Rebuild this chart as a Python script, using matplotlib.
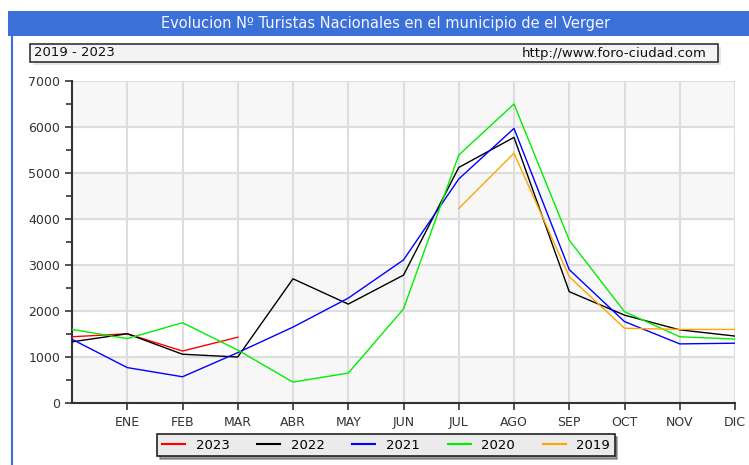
import matplotlib.pyplot as plt
from matplotlib.patches import Rectangle
from matplotlib.lines import Line2D

# Datos (posicion 0 = punto inicial, 1..12 = ENE..DIC)
meses = ['ENE', 'FEB', 'MAR', 'ABR', 'MAY', 'JUN', 'JUL', 'AGO', 'SEP', 'OCT', 'NOV', 'DIC']
t2023 = [1440, 1505, 1130, 1430]
t2022 = [1330, 1505, 1060, 1000, 2700, 2150, 2780, 5120, 5775, 2420, 1910, 1590, 1455]
t2021 = [1385, 770, 570, 1095, 1650, 2280, 3110, 4870, 5970, 2900, 1770, 1285, 1300]
t2020 = [1600, 1400, 1745, 1150, 455, 650, 2045, 5390, 6500, 3540, 1985, 1440, 1390]
t2019 = [4230, 5430, 2745, 1625, 1600, 1600]
x2019_inicio = 7

W, H = 749, 465
fig = plt.figure(figsize=(W / 100, H / 100), dpi=100)
fig.patch.set_facecolor('white')

def fx(px):
    return px / W

def fy(py):
    return 1 - py / H

# Cabecera azul con el titulo
fig.patches.append(Rectangle((fx(8), fy(36)), fx(741), 25 / H, transform=fig.transFigure,
                             facecolor='#3A70D8', edgecolor='none'))
fig.add_artist(Line2D([fx(12), fx(12)], [fy(36), fy(465)], transform=fig.transFigure,
                      color='#3A70D8', lw=1.5))
fig.text(fx(386), fy(23.5), 'Evolucion Nº Turistas Nacionales en el municipio de el Verger',
         color='#F4F6FF', fontsize=10.5, ha='center', va='center')

# Caja con los años y la web
fig.patches.append(Rectangle((fx(33), fy(65)), fx(688), 18 / H, transform=fig.transFigure,
                             facecolor='#E6E6E6', edgecolor='none'))
fig.patches.append(Rectangle((fx(30), fy(62)), fx(688), 18 / H, transform=fig.transFigure,
                             facecolor='#F4F4F4', edgecolor='#333333', lw=1.2))
fig.text(fx(34), fy(53), '2019 - 2023', fontsize=9.5, ha='left', va='center', color='#111111')
fig.text(fx(707), fy(53), 'http://www.foro-ciudad.com', fontsize=9.5, ha='right', va='center',
         color='#111111')

# Area del grafico
ax = fig.add_axes([fx(72), fy(403), fx(735 - 72), (403 - 81) / H])
ax.set_facecolor('white')
for lo in range(0, 7000, 2000):
    ax.axhspan(lo, lo + 1000, color='#F7F7F7', zorder=0)
for v in range(1000, 8000, 1000):
    ax.axhline(v, color='#DDDDDD', lw=1.5, zorder=1)
for m in range(1, 13):
    ax.axvline(m, color='#DDDDDD', lw=1.5, zorder=1)

ax.plot(range(len(t2023)), t2023, color='#FF0000', lw=1, zorder=3)
ax.plot(range(len(t2022)), t2022, color='#000000', lw=1, zorder=3)
ax.plot(range(len(t2021)), t2021, color='#0000FF', lw=1, zorder=3)
ax.plot(range(len(t2020)), t2020, color='#00EE00', lw=1, zorder=3)
ax.plot(range(x2019_inicio, x2019_inicio + len(t2019)), t2019, color='#FFA500', lw=1, zorder=3)

ax.set_xlim(0, 12)
ax.set_ylim(0, 7000)
ax.set_xticks(range(1, 13))
ax.set_xticklabels(meses)
ax.set_yticks(range(0, 8000, 1000))
ax.set_yticks(range(500, 7000, 1000), minor=True)
ax.tick_params(axis='both', labelsize=9, colors='#333333', width=1.2, length=5)
ax.tick_params(axis='y', which='minor', length=4, width=1.2, colors='#333333')
ax.tick_params(axis='x', pad=4)

for s in ['top', 'right']:
    ax.spines[s].set_visible(False)
for s in ['left', 'bottom']:
    ax.spines[s].set_color('#333333')
    ax.spines[s].set_linewidth(1.5)

# Leyenda
handles = [Line2D([], [], color=c, lw=1.5) for c in ['#FF0000', '#000000', '#0000FF', '#00EE00', '#FFA500']]
leg = fig.legend(handles, ['2023', '2022', '2021', '2020', '2019'], ncol=5,
                 loc='center', bbox_to_anchor=(fx(386), fy(445)), frameon=True,
                 fancybox=False, shadow=True, edgecolor='#222222', facecolor='#EBEBEB',
                 fontsize=9.5, handlelength=1.75, columnspacing=2.1, handletextpad=0.8,
                 borderpad=0.35, borderaxespad=0)
leg.get_frame().set_linewidth(1.2)

fig.savefig('out.png', dpi=100)
